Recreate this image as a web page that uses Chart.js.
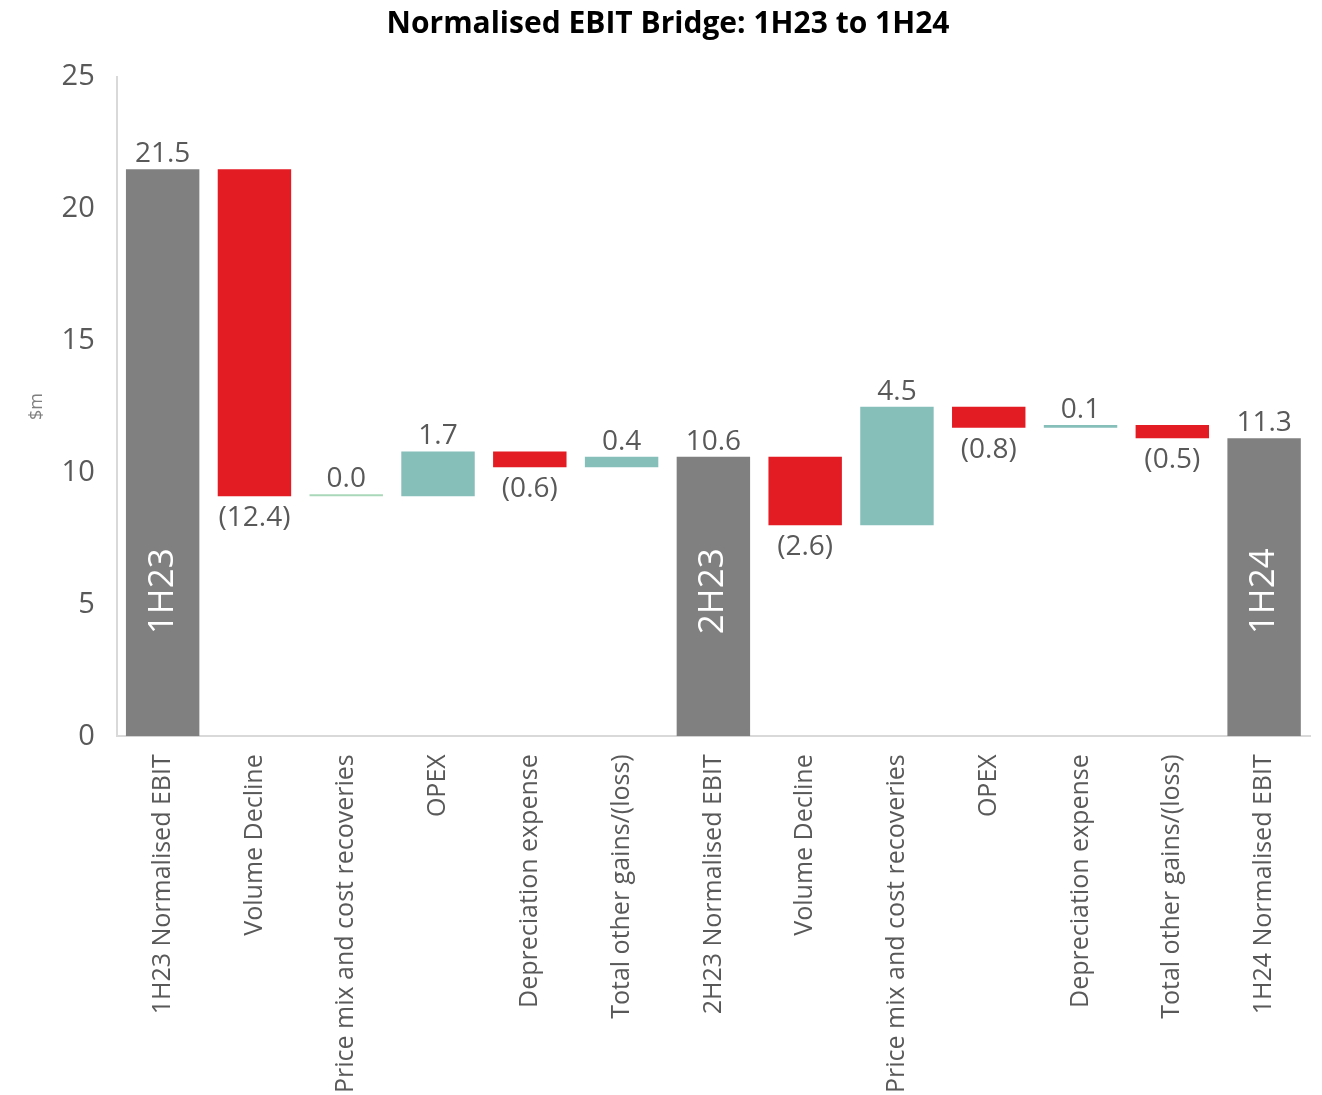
<!DOCTYPE html>
<html>
<head>
<meta charset="utf-8">
<script src="https://cdn.jsdelivr.net/npm/chart.js@4/dist/chart.umd.min.js"></script>
<style>
  html, body { margin: 0; padding: 0; background: #fff; }
  #wrap { width: 1322px; height: 1095px; position: relative; }
</style>
</head>
<body>
<div id="wrap"><canvas id="bridge"></canvas></div>
<script>
  // ===== data =====
  const categories = [
    "1H23 Normalised EBIT",
    "Volume Decline",
    "Price mix and cost recoveries",
    "OPEX",
    "Depreciation expense",
    "Total other gains/(loss)",
    "2H23 Normalised EBIT",
    "Volume Decline",
    "Price mix and cost recoveries",
    "OPEX",
    "Depreciation expense",
    "Total other gains/(loss)",
    "1H24 Normalised EBIT",
  ];
  const values = [21.5, -12.4, 0.0, 1.7, -0.6, 0.4, 10.6, -2.6, 4.5, -0.8, 0.1, -0.5, 11.3];
  const isTotal = [true, false, false, false, false, false, true, false, false, false, false, false, true];
  const totalTags = ["1H23", "", "", "", "", "", "2H23", "", "", "", "", "", "1H24"];
  const yTicks = [0, 5, 10, 15, 20, 25];

  // floating bar ranges built from the running total
  let running = 0;
  const ranges = values.map(function (v, i) {
    if (isTotal[i]) {
      running = v;
      return [0, v];
    }
    const start = running;
    running = +(running + v).toFixed(1);
    return [start, running];
  });

  const colors = values.map(function (v, i) {
    if (isTotal[i]) return "#808080";
    if (v === 0) return "#A8D8B9";
    return v < 0 ? "#E31B23" : "#86BEBA";
  });

  function fmt(v) {
    return v < 0 ? "(" + Math.abs(v).toFixed(1) + ")" : v.toFixed(1);
  }

  const labelPlugin = {
    id: "bridgeLabels",
    afterDatasetsDraw(chart) {
      const ctx = chart.ctx;
      const meta = chart.getDatasetMeta(0);
      const yScale = chart.scales.y;
      ctx.save();
      meta.data.forEach(function (bar, i) {
        const top = Math.min(bar.y, bar.base);
        const bottom = Math.max(bar.y, bar.base);
        ctx.font = "28px 'Open Sans'";
        ctx.fillStyle = "#595959";
        ctx.textAlign = "center";
        if (values[i] < 0) {
          ctx.textBaseline = "top";
          ctx.fillText(fmt(values[i]), bar.x, bottom + 8);
        } else {
          ctx.textBaseline = "bottom";
          ctx.fillText(fmt(values[i]), bar.x, top - 1);
        }
        if (totalTags[i]) {
          ctx.save();
          ctx.translate(bar.x, yScale.getPixelForValue(5.5));
          ctx.rotate(-Math.PI / 2);
          ctx.font = "35px 'Open Sans'";
          ctx.fillStyle = "#ffffff";
          ctx.textBaseline = "middle";
          ctx.fillText(totalTags[i], 0, 0);
          ctx.restore();
        }
      });
      ctx.restore();
    },
  };

  const bridge = document.getElementById("bridge");
  new Chart(bridge, {
    type: "bar",
    plugins: [labelPlugin],
    data: {
      labels: categories,
      datasets: [
        {
          label: "EBIT",
          data: ranges,
          backgroundColor: colors,
          borderWidth: 0,
          minBarLength: 2,
          barPercentage: 0.8,
          categoryPercentage: 1.0,
        },
      ],
    },
    options: {
      responsive: true,
      maintainAspectRatio: false,
      animation: false,
      layout: {
        padding: { top: 6, right: 12, bottom: -8, left: 26 },
      },
      scales: {
        x: {
          grid: { display: false },
          border: { display: true, color: "#D9D9D9", width: 2 },
          ticks: {
            color: "#595959",
            maxRotation: 90,
            minRotation: 90,
            padding: 10,
            font: { family: "'Open Sans'", size: 25 },
          },
        },
        y: {
          min: 0,
          max: 25,
          afterBuildTicks: function (axis) {
            axis.ticks = yTicks.map(function (v) { return { value: v }; });
          },
          grid: { display: false },
          border: { display: true, color: "#D9D9D9", width: 2 },
          ticks: {
            color: "#595959",
            padding: 14,
            font: { family: "'Open Sans'", size: 29 },
          },
          title: {
            display: true,
            text: "$m",
            color: "#7F7F7F",
            font: { family: "'Open Sans'", size: 18 },
            padding: { top: 0, bottom: 0 },
          },
        },
      },
      plugins: {
        legend: { display: false },
        tooltip: { enabled: false },
        title: {
          display: true,
          text: "Normalised EBIT Bridge: 1H23 to 1H24",
          color: "#000000",
          font: { family: "'Open Sans'", size: 30, weight: "bold" },
          padding: { top: 0, bottom: 35 },
        },
      },
    },
  });
</script>
</body>
</html>
